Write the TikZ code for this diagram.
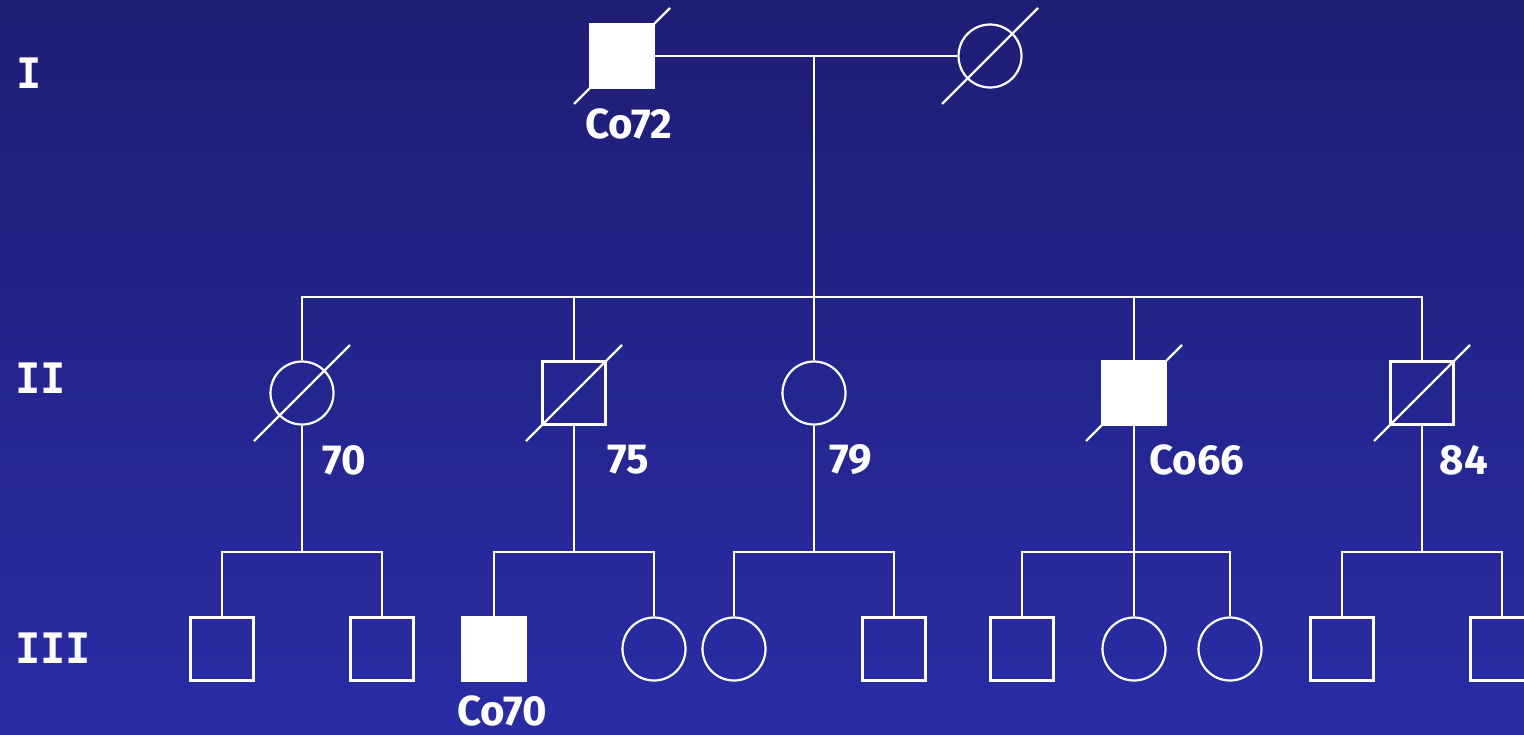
\documentclass[tikz,border=0pt]{standalone}
\usepackage{fontspec}
\setmainfont{Fira Sans}
\newfontfamily\genfont{DejaVu Sans Mono}
\usetikzlibrary{positioning}

\definecolor{bgtop}{RGB}{30,30,116}
\definecolor{bgbot}{RGB}{42,44,166}

\begin{document}
\begin{tikzpicture}[
  x=0.5pt, y=-0.5pt,
  every node/.style={font=\bfseries\fontsize{21}{25}\selectfont, text=white},
  line/.style={draw=white, line width=1.1pt},
  male/.style={rectangle, draw=white, line width=1.1pt, minimum size=31.5pt, inner sep=0pt},
  female/.style={circle, draw=white, line width=1.1pt, minimum size=31.5pt, inner sep=0pt},
  affected/.style={fill=white},
  gen/.style={font=\genfont\bfseries\fontsize{21}{25}\selectfont},
]

%% Background
\shade[top color=bgtop, bottom color=bgbot] (0,0) rectangle (1524,734);
\useasboundingbox (0,0) rectangle (1524,734);

%% Generation labels
\node[gen] (gI)   at (29,73)  {I};
\node[gen] (gII)  at (41,378) {II};
\node[gen] (gIII) at (53,648) {III};

%% Generation I
\node[male, affected] (I1) at (622,56) {};
\node[female]         (I2) at (990,56) {};
\coordinate (mar) at (814,57);
\coordinate (sib) at (814,297);

%% Generation II
\node[female]         (II1) at (302,393)  {};
\node[male]           (II2) at (574,393)  {};
\node[female]         (II3) at (814,393)  {};
\node[male, affected] (II4) at (1134,393) {};
\node[male]           (II5) at (1422,393) {};

%% Generation III
\node[male]           (III1)  at (222,649)  {};
\node[male]           (III2)  at (382,649)  {};
\node[male, affected] (III3)  at (494,649)  {};
\node[female]         (III4)  at (654,649)  {};
\node[female]         (III5)  at (734,649)  {};
\node[male]           (III6)  at (894,649)  {};
\node[male]           (III7)  at (1022,649) {};
\node[female]         (III8)  at (1134,649) {};
\node[female]         (III9)  at (1230,649) {};
\node[male]           (III10) at (1342,649) {};
\node[male]           (III11) at (1502,649) {};

%% Family points
\coordinate (f1) at (302,552);
\coordinate (f2) at (574,552);
\coordinate (f3) at (814,552);
\coordinate (f4) at (1134,552);
\coordinate (f5) at (1422,552);

%% Labels
\node (lI1)   at (629,124)  {Co72};
\node (lII1)  at (344,460)  {70};
\node (lII2)  at (628,460)  {75};
\node (lII3)  at (851,460)  {79};
\node (lII4)  at (1197,460) {Co66};
\node (lII5)  at (1464,460) {84};
\node[inner sep=0pt] (lIII3) at (502,711)  {Co70};

%% Lines
\draw[line] (I1) -- (I2);
\draw[line] (mar) -- (II3);
\draw[line] (II1) |- (sib) -| (II5);
\draw[line] (II2) -- (II2 |- sib);
\draw[line] (II4) -- (II4 |- sib);

\foreach \p/\a/\b in {II1/III1/III2, II2/III3/III4, II3/III5/III6, II4/III7/III9, II5/III10/III11}
  \draw[line] (\p) -- (\p |- f1) (\a) |- (\p |- f1) -| (\b);
\draw[line] (f4) -- (III8);

%% Deceased
\foreach \n in {I1, I2, II1, II2, II4, II5}
  \draw[line] ([shift={(-48,48)}]\n.center) -- ([shift={(48,-48)}]\n.center);

\end{tikzpicture}
\end{document}
